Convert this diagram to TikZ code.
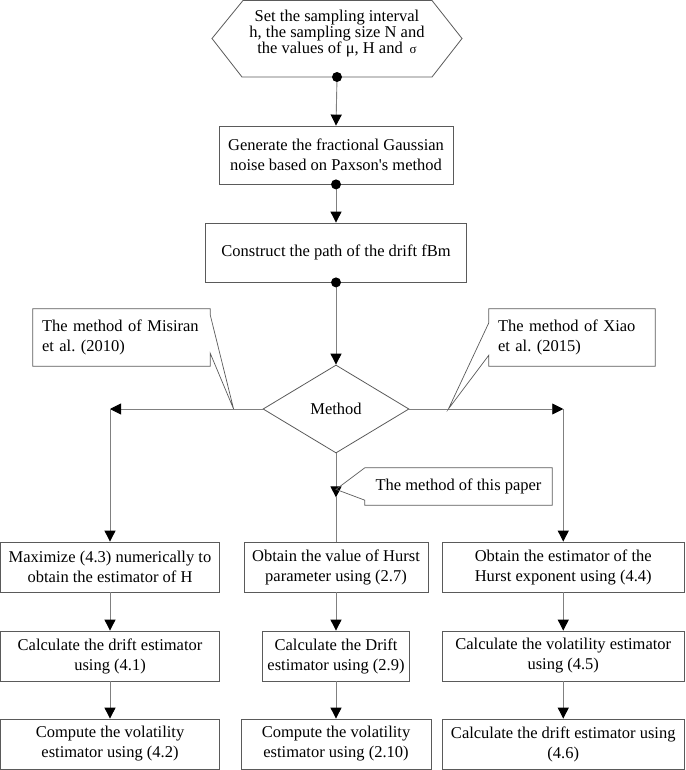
\documentclass[tikz,border=0pt]{standalone}
\usepackage{fontspec}
\setmainfont{Liberation Serif}[Ligatures=TeXOff]
\usepackage{tikz}
\usetikzlibrary{shapes.geometric,arrows.meta}
\definecolor{linegray}{RGB}{128,128,128}
\definecolor{boxgray}{RGB}{90,90,90}
\frenchspacing

\begin{document}
\begin{tikzpicture}[node distance=3cm, auto,
    procbox/.style={draw=boxgray, line width=0.8pt, rectangle, align=center, inner sep=0pt, minimum height=50pt, font=\fontsize{16.5}{20}\selectfont},
    notebox/.style={inner xsep=9pt, inner ysep=0pt, minimum height=57pt, align=left, font=\fontsize{16.5}{20}\selectfont},
    flowarrow/.style={draw=linegray, line width=0.9pt, -{Triangle[length=11pt,width=11pt,color=black]}},
    flowline/.style={draw=linegray, line width=0.9pt},
    tailline/.style={draw=boxgray, line width=0.7pt}]
    \useasboundingbox (0,0) rectangle (685pt,-770pt);

    % start: hexagon with the inputs
    \draw[boxgray, line width=0.8pt] (212pt,-38.5pt) -- (243pt,-0.5pt) -- (432pt,-0.5pt) -- (462pt,-38.5pt) -- (432pt,-77pt) -- (242pt,-77pt) -- cycle;
    \node [align=center, font=\fontsize{16.5}{15}\selectfont] (start) at (337pt,-33.5pt) {Set the sampling interval\\h, the sampling size N and\\the values of μ, H and \,{\fontsize{13}{13}\selectfont σ}};
    \coordinate (hexbot) at (337pt,-77pt);

    % main spine
    \node [procbox, minimum width=234pt, minimum height=58pt] (gen) at (336pt,-155pt) {Generate the fractional Gaussian\\noise based on Paxson's method};
    \node [procbox, minimum width=261pt, minimum height=59pt, below of=gen, node distance=97.5pt] (fbm) {Construct the path of the drift fBm};
    \node [draw=boxgray, line width=0.8pt, diamond, aspect=1.66, minimum width=146pt, minimum height=88pt, inner sep=0pt, font=\fontsize{16.5}{20}\selectfont, below of=fbm, node distance=156.5pt] (method) {Method};

    % three columns
    \node [procbox, minimum width=184pt, below of=method, node distance=158pt] (mid1) {Obtain the value of Hurst\\parameter using (2.7)};
    \node [procbox, minimum width=147pt, below of=mid1, node distance=89pt] (mid2) {Calculate the Drift\\estimator using (2.9)};
    \node [procbox, minimum width=190pt, below of=mid2, node distance=88pt] (mid3) {Compute the volatility\\estimator using (2.10)};

    \node [procbox, minimum width=219pt, left of=mid1, node distance=226pt] (left1) {Maximize (4.3) numerically to\\obtain the estimator of H};
    \node [procbox, minimum width=219pt, below of=left1, node distance=89pt] (left2) {Calculate the drift estimator\\using (4.1)};
    \node [procbox, minimum width=219pt, below of=left2, node distance=88pt] (left3) {Compute the volatility\\estimator using (4.2)};

    \node [procbox, minimum width=242.5pt, right of=mid1, node distance=227.25pt] (right1) {Obtain the estimator of the\\Hurst exponent using (4.4)};
    \node [procbox, minimum width=242.5pt, below of=right1, node distance=89pt] (right2) {Calculate the volatility estimator\\using (4.5)};
    \node [procbox, minimum width=242.5pt, below of=right2, node distance=88pt] (right3) {Calculate the drift estimator using\\(4.6)};

    % callouts
    \node [notebox, text width=159pt] (misiran) at (121.5pt,-337.5pt) {The method of Misiran\\et al. (2010)};
    \node [notebox, text width=148pt] (xiao) at (572pt,-337.5pt) {The method of Xiao\\et al. (2015)};
    \node [inner sep=0pt, minimum width=187pt, minimum height=37pt, font=\fontsize{16.5}{20}\selectfont] (paper) at (458.5pt,-486.5pt) {The method of this paper};

    \coordinate (lcorner) at (left1 |- method);
    \coordinate (rcorner) at (right1 |- method);
    \coordinate (mtip) at ([xshift=-29pt]method.west);
    \coordinate (xtip) at ([xshift=39pt]method.east);
    \coordinate (ptip) at ([yshift=-36pt]method.south);
    \coordinate (pmark) at ([yshift=-44pt]method.south);

    \draw[flowarrow] (hexbot) -- (gen.north);
    \draw[flowarrow] (gen.south) -- (fbm.north);
    \draw[flowarrow] (fbm.south) -- (method.north);
    \draw[flowarrow] (method.west) -- (lcorner);
    \draw[flowarrow] (lcorner) -- (left1.north);
    \draw[flowarrow] (method.east) -- (rcorner);
    \draw[flowarrow] (rcorner) -- (right1.north);
    \draw[flowarrow] (method.south) -- (pmark);
    \draw[flowline] (pmark) -- (mid1.north);

    \draw[flowarrow] (left1) -- (left2);
    \draw[flowarrow] (left2) -- (left3);
    \draw[flowarrow] (mid1) -- (mid2);
    \draw[flowarrow] (mid2) -- (mid3);
    \draw[flowarrow] (right1) -- (right2);
    \draw[flowarrow] (right2) -- (right3);

    \fill (hexbot) circle (5pt);
    \fill (gen.south) circle (5pt);
    \fill (fbm.south) circle (5pt);

    % callout outlines
    \draw[tailline] (misiran.north west) -- (misiran.north east) -- ([yshift=-6pt]misiran.north east) -- (mtip) -- ([yshift=13pt]misiran.south east) -- (misiran.south east) -- (misiran.south west) -- cycle;
    \draw[tailline] (xiao.north east) -- (xiao.north west) -- ([yshift=-14pt]xiao.north west) -- (xtip) -- ([yshift=11pt]xiao.south west) -- (xiao.south west) -- (xiao.south east) -- cycle;
    \draw[tailline] (paper.north east) -- (paper.north west) -- (ptip) -- ([yshift=5pt]paper.south west) -- (paper.south west) -- (paper.south east) -- cycle;
\end{tikzpicture}
\end{document}
